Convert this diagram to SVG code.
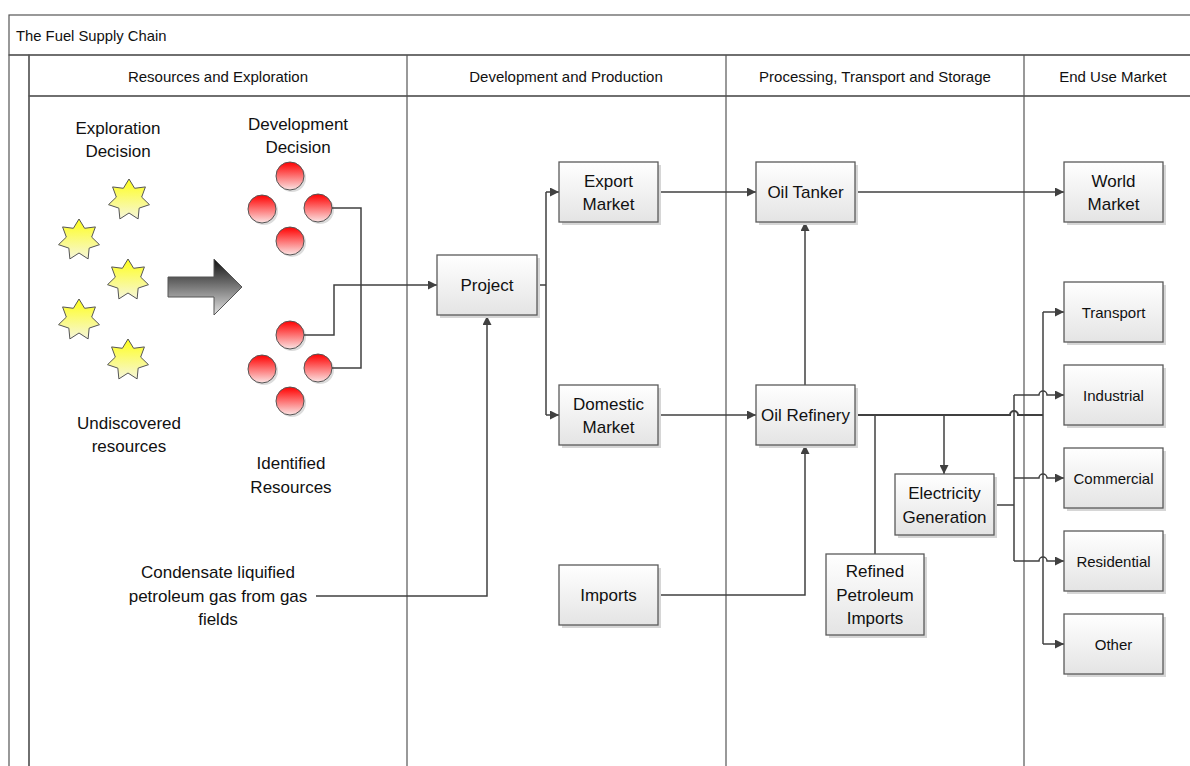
<svg xmlns="http://www.w3.org/2000/svg" width="1190" height="766" viewBox="0 0 1190 766">
<defs>
<linearGradient id="gBox" x1="0" y1="0" x2="0" y2="1"><stop offset="0" stop-color="#ffffff"/><stop offset="1" stop-color="#e4e4e4"/></linearGradient>
<linearGradient id="gHead" x1="0" y1="0" x2="0" y2="1"><stop offset="0" stop-color="#fdfdfd"/><stop offset="1" stop-color="#ebebeb"/></linearGradient>
<linearGradient id="gSide" x1="0" y1="0" x2="1" y2="0"><stop offset="0" stop-color="#fafafa"/><stop offset="1" stop-color="#ececec"/></linearGradient>
<linearGradient id="gStar" x1="0" y1="0" x2="0" y2="1"><stop offset="0" stop-color="#ffff1a"/><stop offset="1" stop-color="#f6f6dc"/></linearGradient>
<linearGradient id="gBall" x1="0" y1="0" x2="0" y2="1"><stop offset="0" stop-color="#ff0000"/><stop offset="1" stop-color="#fbe4e4"/></linearGradient>
<linearGradient id="gArrow" x1="0" y1="0" x2="0" y2="1"><stop offset="0" stop-color="#111111"/><stop offset="1" stop-color="#e2e2e2"/></linearGradient>
<marker id="ah" markerUnits="userSpaceOnUse" markerWidth="10" markerHeight="9" refX="9" refY="4.5" orient="auto"><path d="M0,0 L9,4.5 L0,9 z" fill="#404040"/></marker>
<polygon id="star" points="0,-21 5.64,-11.71 16.42,-13.09 12.67,-2.89 20.47,4.67 10.16,8.11 9.11,18.92 0,13 -9.11,18.92 -10.16,8.11 -20.47,4.67 -12.67,-2.89 -16.42,-13.09 -5.64,-11.71"/>
</defs>
<style>
text{font-family:"Liberation Sans",Arial,sans-serif;fill:#111111;text-anchor:middle;dominant-baseline:central}
.t{font-size:17px}
.s{font-size:15px}
.h{font-size:15px}
.box{fill:url(#gBox);stroke:#5a5a5a;stroke-width:1.3}
.sh{fill:#d6d6d6}
.lane{stroke:#555;stroke-width:1.2;fill:none}
.c{fill:none;stroke:#404040;stroke-width:1.5}
.ca{fill:none;stroke:#404040;stroke-width:1.5;marker-end:url(#ah)}
.st{fill:url(#gStar);stroke:#555;stroke-width:1}
.ball{fill:url(#gBall);stroke:#555;stroke-width:1}
.bsh{fill:#dcdcdc}
</style>
<rect width="1190" height="766" fill="#ffffff"/>
<g id="pool">
<rect x="9" y="15" width="1200" height="40" fill="url(#gHead)" class="lane"/>
<text x="16" y="36" style="text-anchor:start;font-size:14.8px">The Fuel Supply Chain</text>
<rect x="9" y="55" width="20" height="730" fill="url(#gSide)" class="lane"/>
<rect x="29" y="55" width="1200" height="41" fill="url(#gHead)" class="lane"/>
<rect x="29" y="96" width="1200" height="690" fill="#ffffff" class="lane"/>
<line x1="407" y1="55" x2="407" y2="770" class="lane"/>
<line x1="726" y1="55" x2="726" y2="770" class="lane"/>
<line x1="1024" y1="55" x2="1024" y2="770" class="lane"/>
<text class="h" x="218" y="76">Resources and Exploration</text>
<text class="h" x="566" y="76">Development and Production</text>
<text class="h" x="875" y="76">Processing, Transport and Storage</text>
<text class="h" x="1113" y="76">End Use Market</text>
</g>
<g id="labels">
<text class="t" x="118" y="128">Exploration</text><text class="t" x="118" y="151">Decision</text>
<text class="t" x="298" y="124">Development</text><text class="t" x="298" y="147">Decision</text>
<text class="t" x="129" y="423">Undiscovered</text><text class="t" x="129" y="446">resources</text>
<text class="t" x="291" y="463">Identified</text><text class="t" x="291" y="487">Resources</text>
<text class="t" x="218" y="572">Condensate liquified</text><text class="t" x="218" y="596">petroleum gas from gas</text><text class="t" x="218" y="619">fields</text>
</g>
<g id="stars">
<use href="#star" class="st" x="129" y="200"/>
<use href="#star" class="st" x="79" y="240"/>
<use href="#star" class="st" x="128" y="280"/>
<use href="#star" class="st" x="79" y="320"/>
<use href="#star" class="st" x="128" y="360"/>
</g>
<g id="bigArrow">
<polygon points="168,277 214,277 214,259 242,287 214,315 214,297 168,297" fill="url(#gArrow)" stroke="#555" stroke-width="1"/>
</g>
<g id="balls">
<circle class="bsh" cx="292" cy="178" r="14"/><circle class="ball" cx="290" cy="176" r="14"/>
<circle class="bsh" cx="264" cy="211" r="14"/><circle class="ball" cx="262" cy="209" r="14"/>
<circle class="bsh" cx="320" cy="210" r="14"/><circle class="ball" cx="318" cy="208" r="14"/>
<circle class="bsh" cx="292" cy="243" r="14"/><circle class="ball" cx="290" cy="241" r="14"/>
<circle class="bsh" cx="292" cy="337" r="14"/><circle class="ball" cx="290" cy="335" r="14"/>
<circle class="bsh" cx="264" cy="371" r="14"/><circle class="ball" cx="262" cy="369" r="14"/>
<circle class="bsh" cx="320" cy="370" r="14"/><circle class="ball" cx="318" cy="368" r="14"/>
<circle class="bsh" cx="292" cy="403" r="14"/><circle class="ball" cx="290" cy="401" r="14"/>
</g>
<g id="connectors">
<path class="c" d="M332,208 H361 V368 H332"/>
<path class="ca" d="M304,335 H334 V285 H437"/>
<path class="ca" d="M316,596 H487 V316"/>
<path class="c" d="M537,285 H546 M546,192 V415"/>
<path class="ca" d="M546,192 H559"/>
<path class="ca" d="M546,415 H559"/>
<path class="ca" d="M658,192 H756"/>
<path class="ca" d="M658,415 H756"/>
<path class="ca" d="M805,385 V222"/>
<path class="ca" d="M658,595 H805 V445"/>
<path class="ca" d="M855,192 H1064"/>
<path class="c" d="M875,554 V415"/>
<path class="ca" d="M944,415 V474"/>
<path class="c" style="stroke-width:2" d="M855,415 H1010 A4,4 0 0 1 1018,415 H1043"/>
<path class="c" d="M1043,312 V644"/>
<path class="ca" d="M1043,312 H1064"/>
<path class="ca" d="M1043,644 H1064"/>
<path class="c" d="M994,505 H1014 M1014,395 V561"/>
<path class="ca" d="M1014,395 H1039 A4,4 0 0 1 1047,395 H1064"/>
<path class="ca" d="M1014,478 H1039 A4,4 0 0 1 1047,478 H1064"/>
<path class="ca" d="M1014,561 H1039 A4,4 0 0 1 1047,561 H1064"/>
</g>
<g id="project"><rect class="sh" x="440" y="258" width="100" height="60"/><rect class="box" x="437" y="255" width="100" height="60"/><text class="t" x="487" y="285">Project</text></g>
<g id="exportMarket"><rect class="sh" x="562" y="165" width="99" height="60"/><rect class="box" x="559" y="162" width="99" height="60"/><text class="t" x="608.5" y="181">Export</text><text class="t" x="608.5" y="204">Market</text></g>
<g id="domesticMarket"><rect class="sh" x="562" y="388" width="99" height="60"/><rect class="box" x="559" y="385" width="99" height="60"/><text class="t" x="608.5" y="404">Domestic</text><text class="t" x="608.5" y="427">Market</text></g>
<g id="imports"><rect class="sh" x="562" y="568" width="99" height="60"/><rect class="box" x="559" y="565" width="99" height="60"/><text class="t" x="608.5" y="595">Imports</text></g>
<g id="oilTanker"><rect class="sh" x="759" y="165" width="99" height="60"/><rect class="box" x="756" y="162" width="99" height="60"/><text class="t" x="805.5" y="192">Oil Tanker</text></g>
<g id="oilRefinery"><rect class="sh" x="759" y="388" width="99" height="60"/><rect class="box" x="756" y="385" width="99" height="60"/><text class="t" x="805.5" y="415">Oil Refinery</text></g>
<g id="electricityGeneration"><rect class="sh" x="898" y="477" width="99" height="61"/><rect class="box" x="895" y="474" width="99" height="61"/><text class="t" x="944.5" y="493">Electricity</text><text class="t" x="944.5" y="517">Generation</text></g>
<g id="refinedPetroleumImports"><rect class="sh" x="829" y="557" width="98" height="81"/><rect class="box" x="826" y="554" width="98" height="81"/><text class="t" x="875" y="571">Refined</text><text class="t" x="875" y="595">Petroleum</text><text class="t" x="875" y="618">Imports</text></g>
<g id="worldMarket"><rect class="sh" x="1067" y="165" width="99" height="60"/><rect class="box" x="1064" y="162" width="99" height="60"/><text class="t" x="1113.5" y="181">World</text><text class="t" x="1113.5" y="204">Market</text></g>
<g id="transport"><rect class="sh" x="1067" y="285" width="99" height="60"/><rect class="box" x="1064" y="282" width="99" height="60"/><text class="s" x="1113.5" y="312">Transport</text></g>
<g id="industrial"><rect class="sh" x="1067" y="368" width="99" height="60"/><rect class="box" x="1064" y="365" width="99" height="60"/><text class="s" x="1113.5" y="395">Industrial</text></g>
<g id="commercial"><rect class="sh" x="1067" y="451" width="99" height="60"/><rect class="box" x="1064" y="448" width="99" height="60"/><text class="s" x="1113.5" y="478">Commercial</text></g>
<g id="residential"><rect class="sh" x="1067" y="534" width="99" height="60"/><rect class="box" x="1064" y="531" width="99" height="60"/><text class="s" x="1113.5" y="561">Residential</text></g>
<g id="other"><rect class="sh" x="1067" y="617" width="99" height="60"/><rect class="box" x="1064" y="614" width="99" height="60"/><text class="s" x="1113.5" y="644">Other</text></g>
</svg>
